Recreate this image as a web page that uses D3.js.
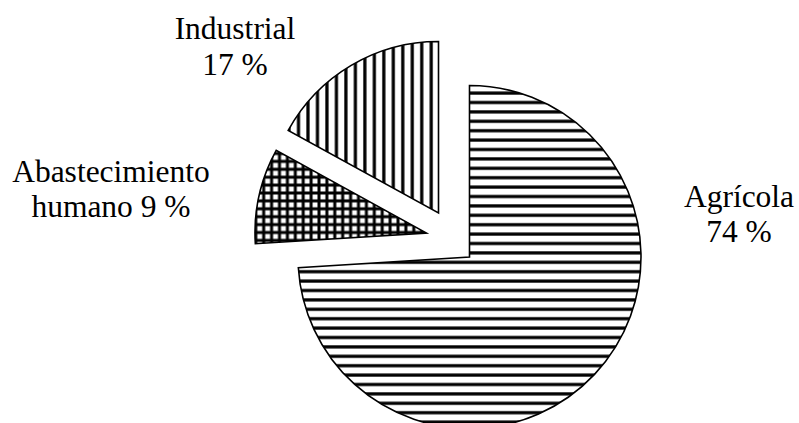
<!DOCTYPE html>
<html>
<head>
<meta charset="utf-8">
<script src="https://cdn.jsdelivr.net/npm/d3@7/dist/d3.min.js"></script>
<style>
  html, body { margin: 0; padding: 0; background: #fff; }
  svg { display: block; }
</style>
</head>
<body>
<svg id="chart" width="799" height="423"></svg>
<script>
// ---- data ----
const categories = ["Agrícola", "Abastecimiento humano", "Industrial"];
const values = [74, 9, 17];
const labelLines = [["Agrícola", "74 %"], ["Abastecimiento", "humano 9 %"], ["Industrial", "17 %"]];

// ---- layout / style ----
const W = 799, H = 423;
const center = [469.5, 257];
const radius = 171.5;
const sliceOffsets = [[0, 0], [-43, -24], [-31, -44]];
const patternIds = ["hlines", "grid", "vlines"];
const labelPos = [[739, 206.7], [111, 181.7], [235, 39]];
const lineHeight = 35.5;

const svg = d3.select("#chart");
svg.append("rect").attr("width", W).attr("height", H).attr("fill", "#fff");

const defs = svg.append("defs");
// horizontal lines
const ph = defs.append("pattern").attr("id", "hlines").attr("patternUnits", "userSpaceOnUse")
  .attr("x", 0).attr("y", 5.3).attr("width", 20).attr("height", 9.4);
ph.append("rect").attr("width", 20).attr("height", 9.4).attr("fill", "#fff");
ph.append("line").attr("x1", 0).attr("x2", 20).attr("y1", 0).attr("y2", 0)
  .attr("stroke", "#000").attr("stroke-width", 3.2);
ph.append("line").attr("x1", 0).attr("x2", 20).attr("y1", 9.4).attr("y2", 9.4)
  .attr("stroke", "#000").attr("stroke-width", 3.2);
// vertical lines
const pv = defs.append("pattern").attr("id", "vlines").attr("patternUnits", "userSpaceOnUse")
  .attr("x", 2.2).attr("y", 0).attr("width", 9.48).attr("height", 20);
pv.append("rect").attr("width", 9.48).attr("height", 20).attr("fill", "#fff");
pv.append("line").attr("x1", 0).attr("x2", 0).attr("y1", 0).attr("y2", 20)
  .attr("stroke", "#000").attr("stroke-width", 3.2);
pv.append("line").attr("x1", 9.48).attr("x2", 9.48).attr("y1", 0).attr("y2", 20)
  .attr("stroke", "#000").attr("stroke-width", 3.2);
// grid
const g = 7.9;
const pg = defs.append("pattern").attr("id", "grid").attr("patternUnits", "userSpaceOnUse")
  .attr("x", 3.1).attr("y", 7.4).attr("width", g).attr("height", g);
pg.append("rect").attr("width", g).attr("height", g).attr("fill", "#fff");
[0, g].forEach(p => {
  pg.append("line").attr("x1", p).attr("x2", p).attr("y1", 0).attr("y2", g)
    .attr("stroke", "#000").attr("stroke-width", 3.0);
  pg.append("line").attr("x1", 0).attr("x2", g).attr("y1", p).attr("y2", p)
    .attr("stroke", "#000").attr("stroke-width", 3.0);
});

const pie = d3.pie().sort(null).value(d => d).startAngle(0).endAngle(2 * Math.PI);
const arcs = pie(values);
const arc = d3.arc().innerRadius(0).outerRadius(radius);

svg.append("g").selectAll("path").data(arcs).join("path")
  .attr("transform", (d, i) => `translate(${center[0] + sliceOffsets[i][0]},${center[1] + sliceOffsets[i][1]})`)
  .attr("d", arc)
  .attr("fill", (d, i) => `url(#${patternIds[i]})`)
  .attr("stroke", "#000")
  .attr("stroke-width", 1.6)
  .attr("stroke-linejoin", "miter");

const labels = svg.append("g")
  .attr("font-family", "'Liberation Serif', 'Times New Roman', serif")
  .attr("font-size", 31.5)
  .attr("fill", "#000")
  .attr("text-anchor", "middle");

labelLines.forEach((lines, i) => {
  const t = labels.append("text").attr("x", labelPos[i][0]).attr("y", labelPos[i][1]);
  lines.forEach((ln, j) => {
    t.append("tspan").attr("x", labelPos[i][0]).attr("y", labelPos[i][1] + j * lineHeight).text(ln);
  });
});
</script>
</body>
</html>
